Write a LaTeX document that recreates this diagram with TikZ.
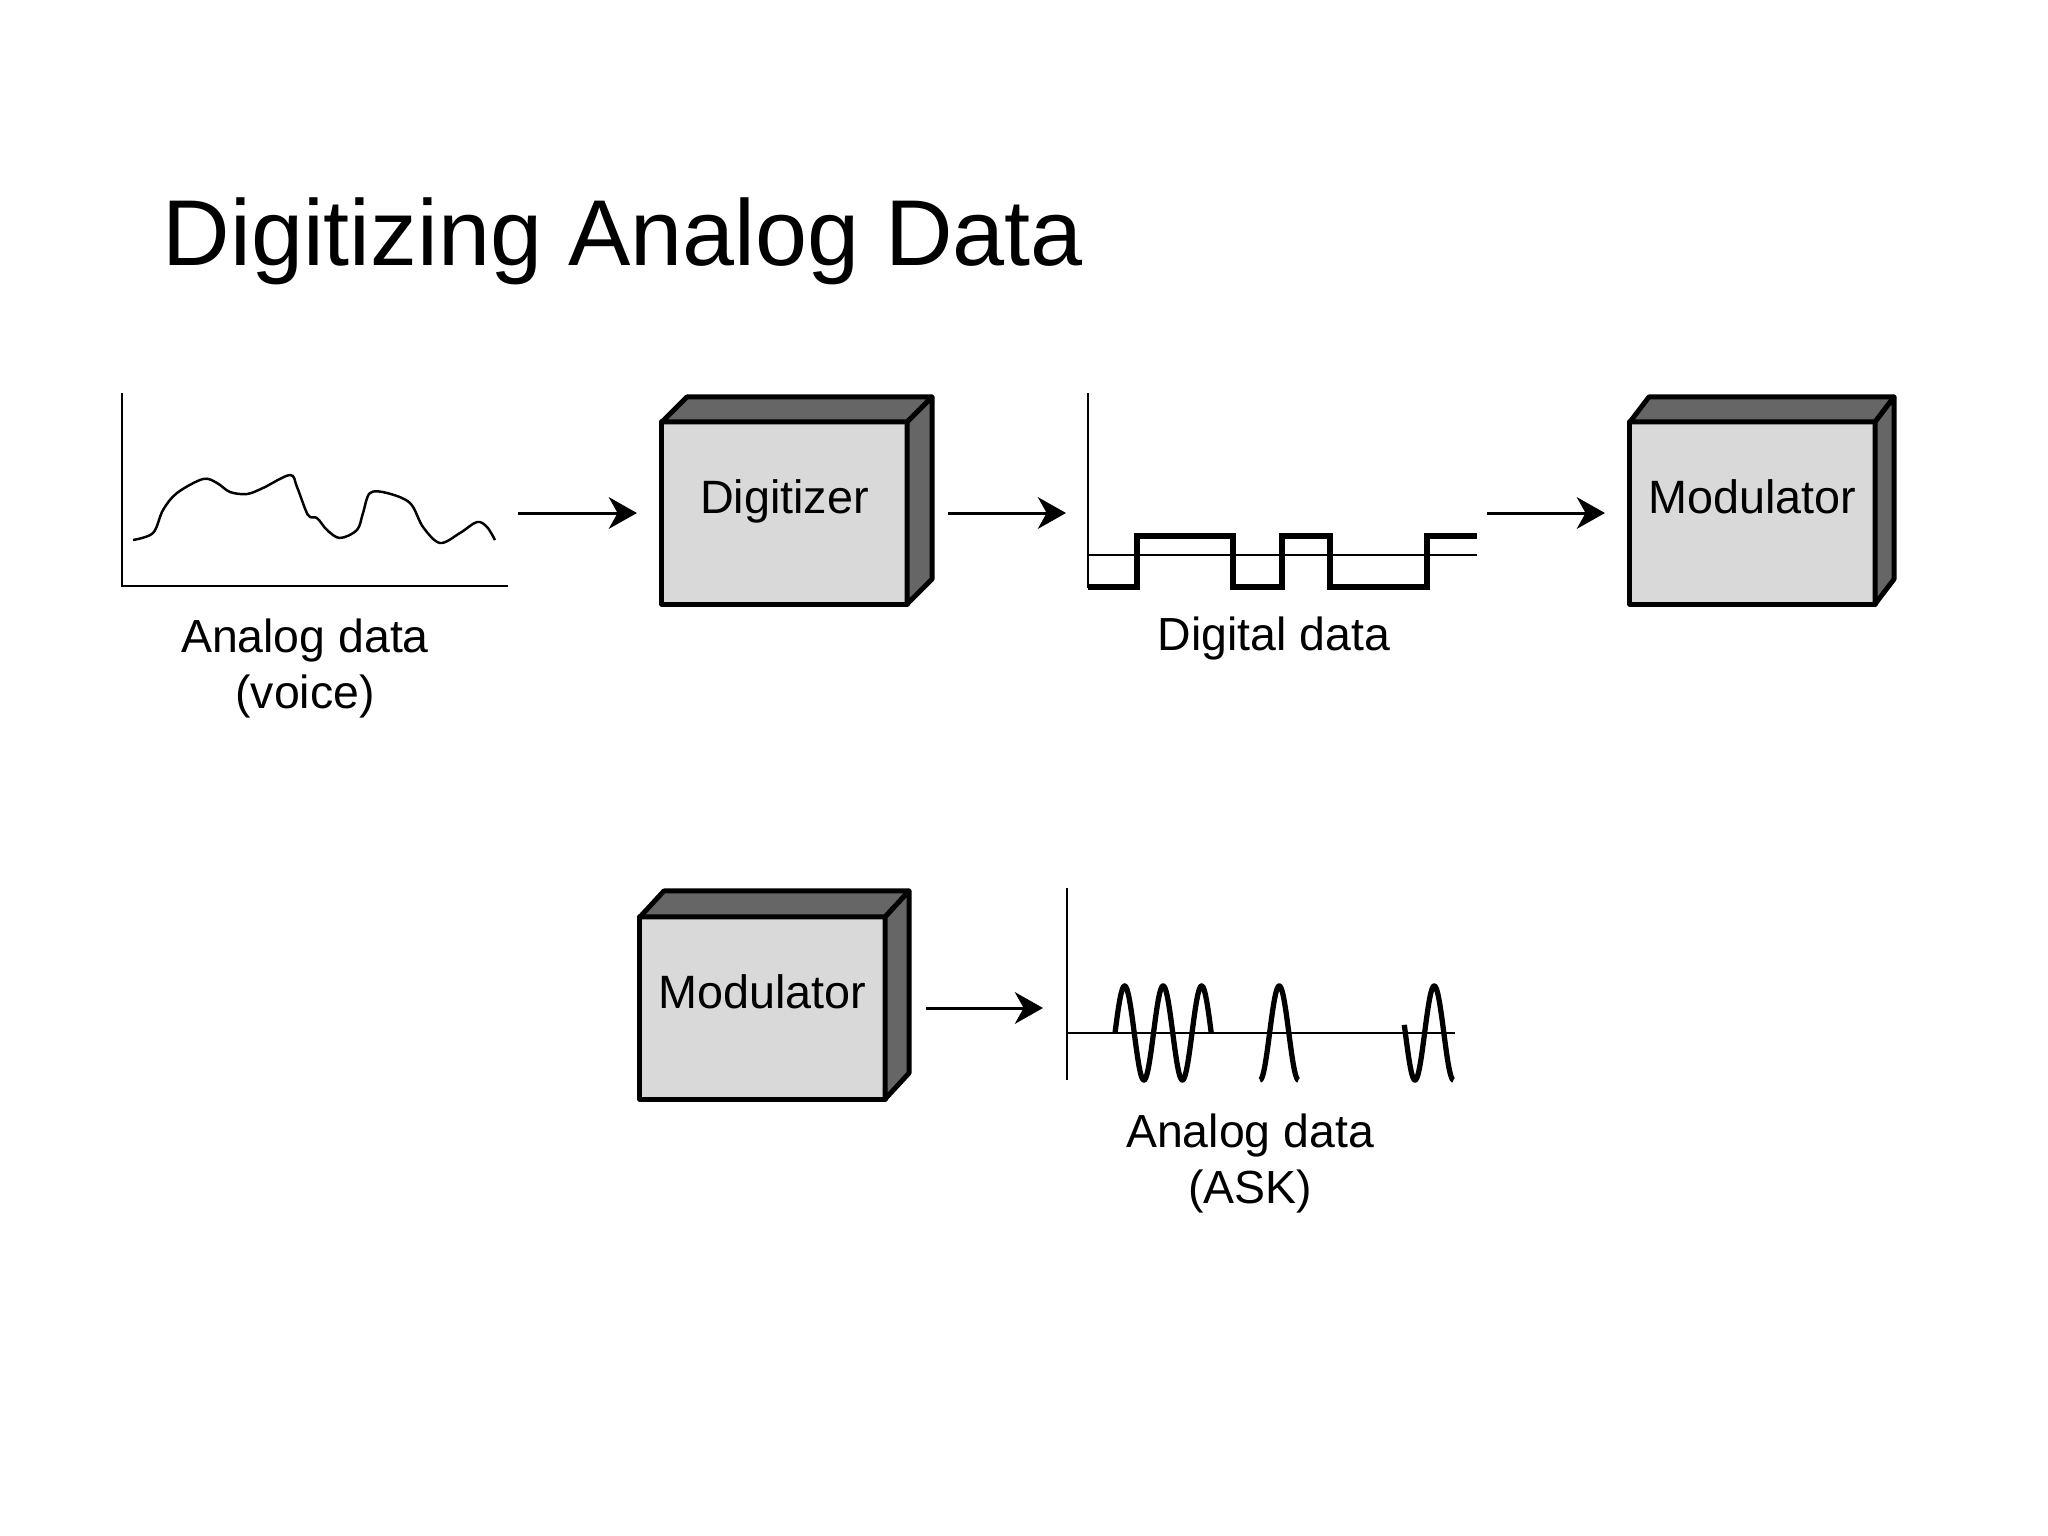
\documentclass[tikz,border=0pt]{standalone}
\usepackage{fontspec}
\setmainfont{Liberation Sans}
\usetikzlibrary{arrows.meta,calc}
\definecolor{boxfront}{HTML}{D9D9D9}
\definecolor{boxside}{HTML}{666666}
\newcommand\drawboxsides[3]{%
  \draw[side] (#1.north west) -- ++(#2,-#3) -- ($(#1.north east)+(#2,-#3)$) -- (#1.north east) -- cycle;
  \draw[side] (#1.north east) -- ++(#2,-#3) -- ($(#1.south east)+(#2,-#3)$) -- (#1.south east) -- cycle;
}
\begin{document}
\begin{tikzpicture}[x=0.01cm, y=-0.01cm,
  box/.style={draw, line width=1.4pt, fill=boxfront, minimum width=2.45cm, minimum height=1.82cm,
    inner sep=0pt, outer sep=0pt, text height=0pt, text depth=0pt, line join=round,
    font=\fontsize{13.3}{16}\selectfont},
  side/.style={draw, line width=1.4pt, fill=boxside, line join=round},
  lbl/.style={inner sep=0pt, font=\fontsize{13.2}{16}\selectfont},
  axis/.style={line width=0.8pt},
  thinaxis/.style={line width=0.65pt},
  wave/.style={line width=0.7pt, line join=round},
  sq/.style={line width=1.45pt},
  ask/.style={line width=1.5pt},
  arr/.style={line width=0.85pt, -{Stealth[length=8pt, width=9pt, inset=2.5pt]}}
]
\useasboundingbox (0,0) rectangle (2048,1536);
\fill[white] (0,0) rectangle (2048,1536);

% title
\node[anchor=base west, inner sep=0pt, font=\fontsize{26.6}{32}\selectfont] (title) at (162,265) {Digitizing Analog Data};

% analog data plot
\draw[axis] (122,393) -- (122,586) -- (508,586);
\draw[wave] plot[smooth, tension=0.55] coordinates {
  (133,540) (153,533) (163,510) (177,493) (203,479) (217,483) (230,492) (247,494)
  (263,488) (290,475) (297,487) (308,515) (317,518) (327,530) (340,538) (357,530)
  (363,513) (370,493) (387,493) (410,503) (423,527) (440,543) (460,533) (477,522)
  (487,527) (495,540)};
\node[lbl, anchor=base] (voice) at (305,652) {\begin{tabular}[t]{@{}c@{}}Analog data\\(voice)\end{tabular}};

% boxes
\node[box] (dig) at (784.5,513) {Digitizer};
\drawboxsides{dig}{25}{25}
\node[box] (mod1) at (1752.5,513) {Modulator};
\drawboxsides{mod1}{19}{25}
\node[box] (mod2) at (762.5,1008) {Modulator};
\drawboxsides{mod2}{24}{26}

% digital data plot
\draw[thinaxis] (1088,393) -- (1088,588);
\draw[thinaxis] (1088,555) -- (1477,555);
\draw[sq] (1088,587) -- (1137,587) -- (1137,536) -- (1233,536) -- (1233,587) -- (1282,587)
  -- (1282,536) -- (1330,536) -- (1330,587) -- (1427,587) -- (1427,536) -- (1477,536);
\node[lbl, anchor=base] (dlab) at (1274,650) {Digital data};

% ASK plot
\draw[axis] (1067,888) -- (1067,1080);
\draw[thinaxis] (1067,1033) -- (1455,1033);
\draw[ask] plot[domain=0:900, samples=160, smooth] ({1115+\x/360*38.5}, {1033-47*sin(\x)});
\draw[ask] plot[domain=270:630, samples=70, smooth] ({1231.1+\x/360*38.5}, {1033-47*sin(\x)});
\draw[ask] plot[domain=170:630, samples=90, smooth] ({1386.1+\x/360*38.5}, {1033-47*sin(\x)});
\node[lbl, anchor=base] (asklab) at (1250,1147) {\begin{tabular}[t]{@{}c@{}}Analog data\\(ASK)\end{tabular}};

% arrows
\coordinate (a1s) at (518,513);
\coordinate (a2e) at (1066,513);
\coordinate (a3s) at (1487,513);
\coordinate (a4e) at (1043,1008);
\draw[arr] (a1s) -- ([xshift=-0.25cm]dig.west);
\draw[arr] ([xshift=0.41cm]dig.east) -- (a2e);
\draw[arr] (a3s) -- ([xshift=-0.25cm]mod1.west);
\draw[arr] ([xshift=0.41cm]mod2.east) -- (a4e);
\end{tikzpicture}
\end{document}
